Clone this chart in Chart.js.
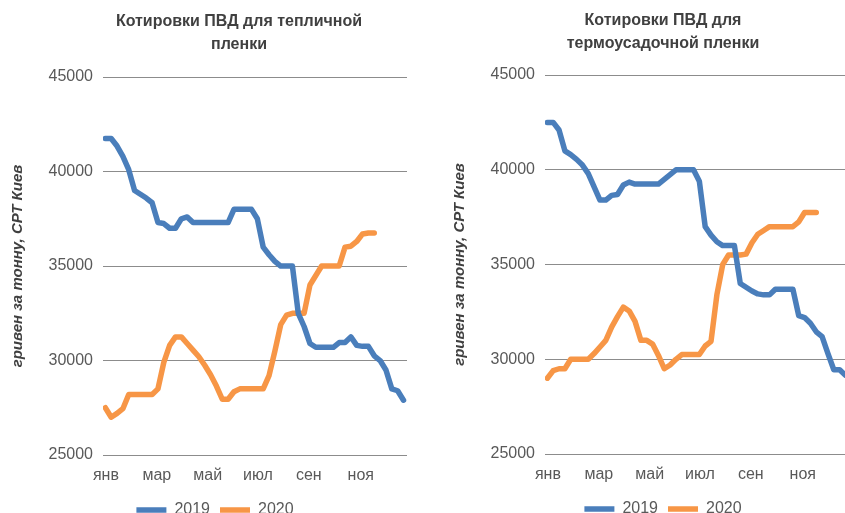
<!DOCTYPE html>
<html>
<head>
<meta charset="utf-8">
<script src="https://cdn.jsdelivr.net/npm/chart.js@4.4.0/dist/chart.umd.min.js"></script>
<style>
  body { margin: 0; width: 845px; height: 513px; overflow: hidden; background: #fff; position: relative; }
  .box { position: absolute; top: 0; }
</style>
</head>
<body>
<div class="box" style="left:0;width:478px;height:528px"><canvas id="greenhouse"></canvas></div>
<div class="box" style="left:442px;width:442px;height:527px"><canvas id="shrink"></canvas></div>
<script>
// weekly quotes, грн/т CPT Киев
const monthLabels = ['янв', 'мар', 'май', 'июл', 'сен', 'ноя'];
const monthWeeks = [0.1, 8.8, 17.5, 26.1, 34.8, 43.7];
const yTicks = [25000, 30000, 35000, 40000, 45000];
const seriesNames = ['2019', '2020'];

const greenhouse2019 = [41750, 41750, 41350, 40800, 40100, 39000, 38800, 38600, 38350, 37300,
  37250, 37000, 37000, 37500, 37600, 37300, 37300, 37300, 37300, 37300,
  37300, 37300, 38000, 38000, 38000, 38000, 37500, 36000, 35600, 35250,
  35000, 35000, 35000, 32500, 31800, 30900, 30700, 30700, 30700, 30700,
  30950, 30950, 31250, 30800, 30750, 30750, 30250, 30000, 29500, 28500,
  28400, 27900];
const greenhouse2020 = [27500, 27000, 27200, 27450, 28200, 28200, 28200, 28200, 28200, 28500,
  29900, 30800, 31250, 31250, 30900, 30550, 30200, 29750, 29250, 28650,
  27950, 27950, 28350, 28500, 28500, 28500, 28500, 28500, 29200, 30500,
  31900, 32400, 32500, 32500, 32500, 34000, 34500, 35000, 35000, 35000,
  35000, 36000, 36050, 36300, 36700, 36750, 36750];

const shrink2019 = [42500, 42500, 42100, 41000, 40800, 40550, 40250, 39800, 39100, 38400,
  38400, 38650, 38700, 39200, 39350, 39250, 39250, 39250, 39250, 39250,
  39500, 39750, 40000, 40000, 40000, 40000, 39400, 37000, 36550, 36200,
  36000, 36000, 36000, 34000, 33800, 33600, 33450, 33400, 33400, 33700,
  33700, 33700, 33700, 32300, 32200, 31900, 31450, 31200, 30300, 29450,
  29450, 29150];
const shrink2020 = [29000, 29400, 29500, 29500, 30000, 30000, 30000, 30000, 30300, 30650,
  31000, 31700, 32250, 32750, 32550, 32000, 31000, 31000, 30800, 30200,
  29500, 29700, 30000, 30250, 30250, 30250, 30250, 30700, 30950, 33400,
  35000, 35500, 35500, 35500, 35550, 36150, 36600, 36800, 37000, 37000,
  37000, 37000, 37000, 37250, 37750, 37750, 37750];

const textColor = '#595959';
const font = 'Liberation Sans, Arial, sans-serif';

function makeChart(id, title, s2019, s2020, cfg) {
  const line = (label, values, color) => ({
    label: label,
    data: values.map((v, i) => ({ x: i, y: v })),
    borderColor: color,
    backgroundColor: color,
    borderWidth: 5.5,
    borderCapStyle: 'round',
    borderJoinStyle: 'round',
    pointRadius: 0,
    tension: 0
  });
  return new Chart(document.getElementById(id), {
    type: 'line',
    data: {
      datasets: [
        line(seriesNames[0], s2019, '#4a7ebb'),
        line(seriesNames[1], s2020, '#f79646')
      ]
    },
    options: {
      responsive: true,
      maintainAspectRatio: false,
      animation: false,
      plugins: {
        title: {
          display: true,
          text: title,
          color: '#404040',
          font: { family: font, size: 16, weight: 'bold', lineHeight: 1.44 },
          padding: { top: cfg.titleTop, bottom: cfg.titleBottom }
        },
        legend: {
          position: 'bottom',
          labels: {
            usePointStyle: true,
            pointStyle: 'line',
            pointStyleWidth: 30,
            boxHeight: 5,
            padding: 10,
            color: textColor,
            font: { family: font, size: 16 },
            generateLabels: function(chart) {
              const items = Chart.defaults.plugins.legend.labels.generateLabels(chart);
              if (cfg.legendShift) {
                // empty slot keeps the visible items left of the title centre
                items.push({ text: '', strokeStyle: 'rgba(0,0,0,0)', fillStyle: 'rgba(0,0,0,0)',
                  lineWidth: 0, pointStyle: 'line', hidden: false, datasetIndex: 9 });
              }
              return items;
            }
          }
        },
        tooltip: { enabled: false }
      },
      scales: {
        x: {
          type: 'linear',
          min: -0.4,
          max: 51.6,
          afterBuildTicks: function(scale) {
            scale.ticks = monthWeeks.map(v => ({ value: v }));
          },
          afterFit: function(scale) { scale.height = 37; },
          grid: { display: false, drawTicks: false },
          border: { display: false },
          ticks: {
            autoSkip: false,
            maxRotation: 0,
            padding: 11,
            color: textColor,
            font: { family: font, size: 16 },
            callback: function(value, index) { return monthLabels[index]; }
          }
        },
        y: {
          min: yTicks[0],
          max: yTicks[yTicks.length - 1],
          afterFit: function(scale) { scale.width = 103; },
          grid: { color: '#8c8c8c', lineWidth: 1, drawTicks: false },
          border: { display: false },
          ticks: {
            stepSize: 5000,
            padding: 10,
            color: textColor,
            font: { family: font, size: 16 },
            callback: function(value) { return String(value); }
          },
          title: {
            display: true,
            text: 'гривен за тонну, СРТ Киев',
            color: '#404040',
            font: { family: font, size: 15, weight: 'bold', style: 'italic' },
            padding: { top: 9, bottom: 0 }
          }
        },
        gap: {
          type: 'linear',
          position: 'right',
          afterFit: function(scale) { scale.width = cfg.rightGap; },
          grid: { display: false, drawTicks: false },
          border: { display: false },
          ticks: { display: false }
        }
      }
    }
  });
}

makeChart('greenhouse', ['Котировки ПВД для тепличной', 'пленки'], greenhouse2019, greenhouse2020,
  { rightGap: 71, titleTop: 10, titleBottom: 21, legendShift: true });
makeChart('shrink', ['Котировки ПВД для', 'термоусадочной пленки'], shrink2019, shrink2020,
  { rightGap: 35, titleTop: 9, titleBottom: 20, legendShift: false });
</script>
</body>
</html>
